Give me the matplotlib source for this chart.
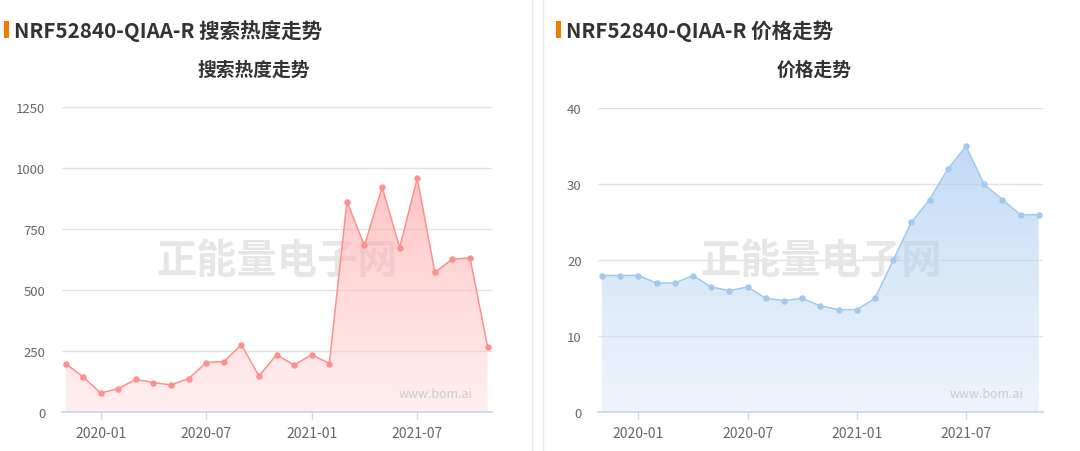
import matplotlib
matplotlib.use("Agg")
import matplotlib.pyplot as plt
import numpy as np
from matplotlib.patches import Polygon, Rectangle
from matplotlib.lines import Line2D

plt.rcParams['font.family'] = ['Noto Sans CJK SC', 'DejaVu Sans']

months = ["2019-11", "2019-12", "2020-01", "2020-02", "2020-03", "2020-04", "2020-05",
          "2020-06", "2020-07", "2020-08", "2020-09", "2020-10", "2020-11", "2020-12",
          "2021-01", "2021-02", "2021-03", "2021-04", "2021-05", "2021-06", "2021-07",
          "2021-08", "2021-09", "2021-10", "2021-11"]
search_heat = [200, 145, 79, 97, 135, 122, 112, 138, 204, 208, 277, 149, 236, 194,
               236, 200, 863, 684, 923, 675, 960, 574, 628, 632, 269]
price = [18, 18, 18, 17, 17, 18, 16.5, 16, 16.5, 15, 14.7, 15, 14, 13.5, 13.5, 15,
         20, 25, 28, 32, 35, 30, 28, 26, 26]
x_tick_labels = ["2020-01", "2020-07", "2021-01", "2021-07"]
left_yticks = [0, 250, 500, 750, 1000, 1250]
right_yticks = [0, 10, 20, 30, 40]

main_title_left = "NRF52840-QIAA-R 搜索热度走势"
sub_title_left = "搜索热度走势"
main_title_right = "NRF52840-QIAA-R 价格走势"
sub_title_right = "价格走势"
watermark = "正能量电子网"
site = "www.bom.ai"

W, H = 1080, 452
fig = plt.figure(figsize=(W / 100, H / 100), dpi=100)
fig.patch.set_facecolor("white")


def fx(px):
    return px / W


def fy(py):
    return 1 - py / H


def draw_panel(rect, values, ylim, yticks, line_color, top_rgba, bot_rgba, wm_cx, site_rx):
    ax = fig.add_axes(rect)
    x = np.arange(len(values))
    ax.text(fx(wm_cx), fy(261), watermark, ha="center", va="center", fontsize=29,
            fontweight="bold", color="#e6e6e6", zorder=1, transform=fig.transFigure)
    verts = [(x[0], 0)] + list(zip(x, values)) + [(x[-1], 0)]
    poly = Polygon(verts, closed=True, facecolor="none", edgecolor="none", transform=ax.transData)
    ax.add_patch(poly)
    n = 256
    grad = np.zeros((n, 1, 4))
    t = np.linspace(0, 1, n)[:, None]
    top = np.array(top_rgba)
    bot = np.array(bot_rgba)
    grad[:, 0, :] = top * (1 - t) + bot * t
    im = ax.imshow(grad, aspect="auto", extent=(x[0], x[-1], 0, max(values)),
                   origin="upper", zorder=2, interpolation="bilinear")
    im.set_clip_path(poly)
    ax.plot(x, values, color=line_color, lw=1.1, marker="o", ms=3.6,
            mfc=line_color, mec=line_color, zorder=4)
    ax.text(fx(site_rx), fy(395), site, ha="right", va="center", fontsize=9,
            color="#cccccc", zorder=3, transform=fig.transFigure)
    ax.set_xlim(-0.2, len(values) - 1 + 0.25)
    ax.set_ylim(*ylim)
    ax.set_yticks(yticks)
    ax.set_yticklabels([str(v) for v in yticks])
    idx = [months.index(m) for m in x_tick_labels]
    ax.set_xticks(idx)
    ax.set_xticklabels(x_tick_labels)
    ax.grid(axis="y", color="#e3e3e3", lw=1, zorder=0)
    ax.set_axisbelow(True)
    for s in ["top", "right", "left"]:
        ax.spines[s].set_visible(False)
    ax.spines["bottom"].set_color("#cdd3ea")
    ax.spines["bottom"].set_linewidth(1.2)
    ax.spines["bottom"].set_zorder(5)
    ax.tick_params(axis="y", length=0, pad=12, labelsize=9.5, labelcolor="#666666")
    ax.tick_params(axis="x", length=5, width=1, color="#cdd3ea", pad=5,
                   labelsize=10, labelcolor="#666666")
    ax.set_facecolor("none")
    return ax


left_rect = [fx(62), fy(413.3), fx(492) - fx(62), fy(108.3) - fy(413.3)]
right_rect = [fx(598.3), fy(413.3), fx(1043.3) - fx(598.3), fy(109.3) - fy(413.3)]

axl = draw_panel(left_rect, search_heat, (0, 1250), left_yticks, "#ff8f8f",
                 (1.0, 0.62, 0.62, 0.62), (1.0, 0.85, 0.85, 0.42), 277, 473)
axr = draw_panel(right_rect, price, (0, 40), right_yticks, "#a3c9ef",
                 (0.58, 0.76, 0.93, 0.58), (0.82, 0.89, 0.97, 0.38), 821, 1024)

fig.add_artist(Line2D([fx(531.7), fx(531.7)], [0, 1], color="#ececec", lw=1))
fig.add_artist(Line2D([fx(543.3), fx(543.3)], [0, 1], color="#ececec", lw=1))

fig.add_artist(Rectangle((fx(4), fy(38.5)), fx(9) - fx(4), fy(22) - fy(38.5),
                         color="#f07d00", lw=0))
fig.add_artist(Rectangle((fx(556), fy(38.5)), fx(561) - fx(556), fy(22) - fy(38.5),
                         color="#f07d00", lw=0))

fig.text(fx(14), fy(31), main_title_left, ha="left", va="center", fontsize=14.8,
         fontweight="bold", color="#333333")
fig.text(fx(566), fy(31), main_title_right, ha="left", va="center", fontsize=14.8,
         fontweight="bold", color="#333333")
fig.text(fx(254), fy(70), sub_title_left, ha="center", va="center", fontsize=13.5,
         fontweight="bold", color="#333333")
fig.text(fx(814), fy(70), sub_title_right, ha="center", va="center", fontsize=13.5,
         fontweight="bold", color="#333333")

fig.savefig("out.png", dpi=100, facecolor="white")
